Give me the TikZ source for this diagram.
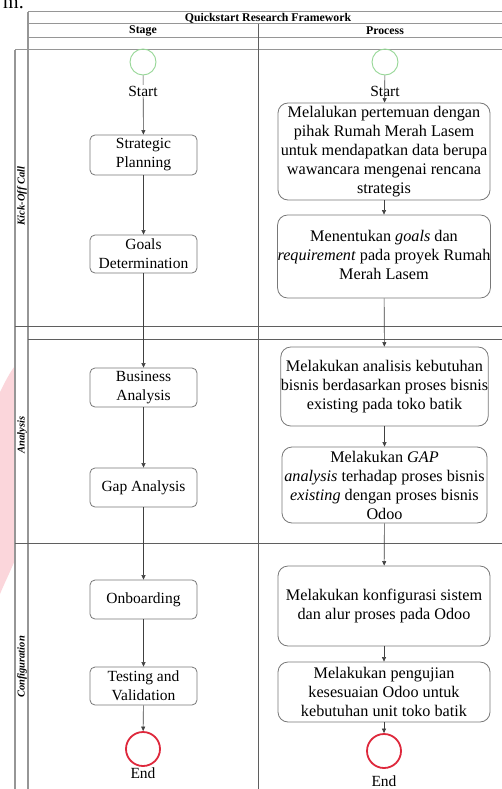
\documentclass[tikz,border=0pt]{standalone}
\usepackage{fontspec}
\setmainfont{Liberation Serif}
\usetikzlibrary{arrows.meta}

\definecolor{wmpink}{RGB}{251,214,219}
\definecolor{startgreen}{RGB}{150,215,150}
\definecolor{endred}{RGB}{222,40,60}
\definecolor{laneline}{RGB}{150,150,150}
\definecolor{sepline}{RGB}{95,95,95}
\definecolor{boxline}{RGB}{120,120,120}

% multi-line text block that can be nudged down inside its box
\newcommand{\lowered}[2]{\raisebox{-#1}{\begin{tabular}{@{}c@{}}#2\end{tabular}}}

\begin{document}
\begin{tikzpicture}[x=1pt,y=-1pt,
  lanev/.style={draw=laneline,line width=1.3pt},
  laneh/.style={draw=laneline,line width=1pt},
  sep/.style={draw=sepline,line width=0.8pt},
  headtxt/.style={font=\fontsize{11.8}{13}\selectfont\bfseries,inner sep=0pt},
  phasetxt/.style={font=\fontsize{10.5}{12}\selectfont\bfseries\itshape,rotate=90,inner sep=0pt},
  stagebox/.style={draw=boxline,line width=0.8pt,rounded corners=5pt,
    minimum width=107pt,align=center,inner xsep=0pt,inner ysep=0pt,
    font=\fontsize{15.5}{19}\selectfont},
  procbox/.style={draw=boxline,line width=0.8pt,rounded corners=10pt,
    align=center,inner xsep=0pt,inner ysep=0pt,
    font=\fontsize{16.2}{19}\selectfont},
  startev/.style={circle,draw=startgreen,line width=0.9pt,minimum size=26pt,inner sep=0pt},
  endev/.style={circle,draw=endred,line width=1.8pt,minimum size=34pt,inner sep=0pt},
  evtxt/.style={font=\fontsize{15.5}{18}\selectfont,inner sep=1pt},
  flow/.style={draw=black!75,line width=0.6pt,-{Triangle[length=4.5pt,width=4pt]}}
]
\useasboundingbox (0,0) rectangle (502,789);
\clip (0,0) rectangle (502,789);

% page background and the faint watermark at the left margin
\fill[white] (0,0) rectangle (502,789);
\fill[wmpink] (0,392) .. controls (5,382) and (10,372) .. (15,366)
  -- (15,560) .. controls (10,572) and (5,582) .. (0,594) -- cycle;
\node[font=\fontsize{20}{20}\selectfont,anchor=base east,inner sep=0pt] (prevline) at (24,8.5) {m.};

% swimlane frame
\fill[white] (15,50) rectangle (510,789);
\fill[white] (28,12) rectangle (510,50);
\draw[laneh] (28,12) -- (510,12);
\draw[laneh] (28,24) -- (510,24);
\draw[laneh] (28,38) -- (510,38);
\draw[laneh] (15,50) -- (510,50);
\draw[lanev] (28,12) -- (28,789);
\draw[lanev] (15,50) -- (15,789);
\draw[sep] (258,24) -- (258,789);
\draw[sep] (15,326) -- (510,326);
\draw[sep] (28,339) -- (510,339);
\draw[sep] (15,543) -- (510,543);

% headings
\node[headtxt] (title) at (268,18) {Quickstart Research Framework};
\node[headtxt] (stagehead) at (143,31) {Stage};
\node[headtxt] (processhead) at (385,31) {Process};

\node[phasetxt] (ph1) at (22,196) {Kick-Off Call};
\node[phasetxt] (ph2) at (22,435) {Analysis};
\node[phasetxt] (ph3) at (22,667) {Configuration};

% stage column
\node[startev] (startL) at (143,62) {};
\node[stagebox,minimum height=40pt] (sp) at (143.5,155) {Strategic\\Planning};
\node[stagebox,minimum height=38pt] (gd) at (143.5,254) {Goals\\Determination};
\node[stagebox,minimum height=39pt] (ba) at (143.5,387.5) {Business\\Analysis};
\node[stagebox,minimum height=39pt] (ga) at (143.5,487.5) {Gap Analysis};
\node[stagebox,minimum height=39pt] (ob) at (143.5,599.5) {Onboarding};
\node[stagebox,minimum height=38pt] (tv) at (143.5,686) {Testing and\\Validation};
\node[endev] (endL) at (143,749) {};
\node[evtxt] (endLtxt) at (143,773) {End};

\draw[flow] (startL) -- (sp);
\node[evtxt,fill=white] (startLtxt) at (143,91) {Start};
\draw[flow] (sp) -- (gd);
\draw[flow] (gd) -- (ba);
\draw[flow] (ba) -- (ga);
\draw[flow] (ga) -- (ob);
\draw[flow] (ob) -- (tv);
\draw[flow] (tv) -- (endL);

% process column
\node[startev] (startR) at (385,62) {};
\node[evtxt] (startRtxt) at (385,91) {Start};
\node[procbox,minimum width=212pt,minimum height=97pt] (p1) at (384,151.5)
  {Melalukan pertemuan dengan\\pihak Rumah Merah Lasem\\untuk mendapatkan data berupa\\wawancara mengenai rencana\\strategis};
\node[procbox,minimum width=212pt,minimum height=83pt] (p2) at (384,256.5)
  {\lowered{6pt}{Menentukan \textit{goals} dan\\\textit{requirement} pada proyek Rumah\\Merah Lasem}};
\node[procbox,minimum width=205pt,minimum height=79pt] (p3) at (384.5,386.5)
  {Melakukan analisis kebutuhan\\bisnis berdasarkan proses bisnis\\existing pada toko batik};
\node[procbox,minimum width=205pt,minimum height=76pt] (p4) at (384.5,485)
  {Melakukan \textit{GAP}\\\textit{analysis} terhadap proses bisnis\\\textit{existing} dengan proses bisnis\\Odoo};
\node[procbox,minimum width=212pt,minimum height=80pt] (p5) at (384,606)
  {\lowered{4pt}{Melakukan konfigurasi sistem\\dan alur proses pada Odoo}};
\node[procbox,minimum width=212pt,minimum height=60pt] (p6) at (384,692)
  {Melakukan pengujian\\kesesuaian Odoo untuk\\kebutuhan unit toko batik};
\node[endev] (endR) at (384,751) {};
\node[evtxt] (endRtxt) at (384,781) {End};

\draw[flow] (startR) -- (p1);
\draw[flow] (p1) -- (p2);
\draw[flow] (p2) -- (p3);
\draw[flow] (p3) -- (p4);
\draw[flow] (p4) -- (p5);
\draw[flow] (p5) -- (p6);
\draw[flow] (p6) -- (endR);
\end{tikzpicture}
\end{document}
